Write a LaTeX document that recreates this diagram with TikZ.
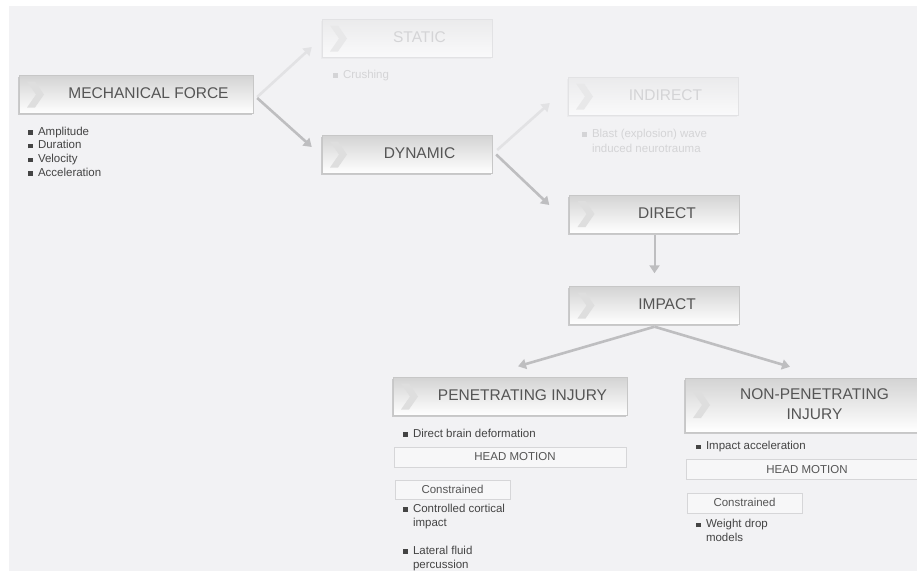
\documentclass[tikz,border=0pt]{standalone}
\usepackage{fontspec}
\setmainfont{Liberation Sans}
\usetikzlibrary{positioning, arrows.meta, calc, shadows}
\definecolor{pagebg}{RGB}{242,242,244}
\definecolor{boxtext}{RGB}{85,85,85}
\definecolor{listtext}{RGB}{68,68,68}
\definecolor{arrowgray}{RGB}{190,190,192}
\definecolor{ghostgray}{RGB}{226,226,228}
\definecolor{ghosttext}{RGB}{212,212,214}
\definecolor{framegray}{RGB}{214,214,216}

% chevron drawn at the left end of every stage box
\newcommand{\boxchevron}[1]{\fill[#1] ([shift={(8pt,13pt)}]path picture bounding box.west)
  -- ++(8pt,0pt) -- ++(9pt,-13pt) -- ++(-9pt,-13pt) -- ++(-8pt,0pt) -- ++(9pt,13pt) -- cycle;}
\newcommand{\boxlabel}[1]{\hspace*{25pt}\begin{tabular}{@{}c@{}}#1\end{tabular}}
\newcommand{\bul}{\makebox[10pt][l]{\rule[0.5pt]{4.5pt}{4.5pt}}}

\begin{document}
\begin{tikzpicture}[
  x=1pt, y=-1pt,
  stagebox/.style={draw=black!22, top color=black!17, bottom color=white,
                   minimum width=170pt, minimum height=38pt, inner sep=0pt,
                   text=boxtext, font=\fontsize{15.5}{20}\selectfont,
                   drop shadow={shadow xshift=-1.4pt, shadow yshift=-1.8pt, opacity=.35},
                   path picture={\boxchevron{black!13}}},
  ghostbox/.style={draw=ghostgray, top color=ghostgray!70, bottom color=white!60!pagebg,
                   minimum width=170pt, minimum height=38pt, inner sep=0pt,
                   text=ghosttext, font=\fontsize{15.5}{20}\selectfont,
                   drop shadow={shadow xshift=-1.2pt, shadow yshift=-1.8pt, opacity=.06},
                   path picture={\boxchevron{ghostgray!80}}},
  wide/.style={minimum width=234pt},
  itemlist/.style={inner sep=0pt, align=left, text=listtext, font=\fontsize{11.5}{13.7}\selectfont},
  framebox/.style={draw=framegray, fill=white!35!pagebg, inner sep=0pt, minimum height=20pt,
                   text=boxtext, font=\fontsize{11.5}{14}\selectfont},
  flow/.style={-{Triangle[length=8pt,width=10pt]}, line width=2.6pt, arrowgray},
  ghostflow/.style={flow, ghostgray}
]
  \useasboundingbox (0,0) rectangle (917,571);
  \fill[pagebg] (9,6) rectangle (917,571);

  % stage boxes
  \node[stagebox, wide] (mech) at (136,94.5) {\boxlabel{MECHANICAL FORCE}};
  \node[ghostbox] (static) at (407,38.5) {\boxlabel{STATIC}};
  \node[stagebox] (dynamic) at (407,154.5) {\boxlabel{DYNAMIC}};
  \node[ghostbox] (indirect) at (653,96.5) {\boxlabel{INDIRECT}};
  \node[stagebox] (direct) at (654.5,214) {\boxlabel{DIRECT}};
  \node[stagebox] (impact) at (654.5,305.5) {\boxlabel{IMPACT}};
  \node[stagebox, wide] (pen) at (510,396.5) {\boxlabel{PENETRATING INJURY}};
  \node[stagebox, wide, minimum height=54pt] (nonpen) at (802,405) {\boxlabel{NON-PENETRATING\\INJURY}};

  % bullet lists
  \node[itemlist, below right=13pt and 9pt of mech.south west] (mechlist)
    {\bul Amplitude\\\bul Duration\\\bul Velocity\\\bul Acceleration};
  \node[itemlist, text=ghosttext, below right=12pt and 11pt of static.south west] (staticlist)
    {\bul Crushing};
  \node[itemlist, text=ghosttext, font=\fontsize{11.5}{15}\selectfont,
        below right=13pt and 14pt of indirect.south west] (indirectlist)
    {\bul Blast (explosion) wave\\\hspace*{10pt}induced neurotrauma};

  % penetrating branch
  \node[itemlist, below right=13pt and 10pt of pen.south west] (penlist) {\bul Direct brain deformation};
  \node[framebox, minimum width=232pt, below right=31pt and 1pt of pen.south west] (penmotion)
    {\hspace*{10pt}HEAD MOTION};
  \node[framebox, minimum width=115pt, minimum height=19pt, below right=13pt and 1pt of penmotion.south west] (pencons)
    {Constrained};
  \node[itemlist, font=\fontsize{11.5}{14.5}\selectfont, below right=4pt and 8pt of pencons.south west] (penmodels)
    {\bul Controlled cortical\\\hspace*{10pt}impact\\[13pt]\bul Lateral fluid\\\hspace*{10pt}percussion};

  % non-penetrating branch
  \node[itemlist, below right=9pt and 11pt of nonpen.south west] (nonpenlist) {\bul Impact acceleration};
  \node[framebox, minimum width=232pt, below right=27pt and 1pt of nonpen.south west] (nonpenmotion)
    {\hspace*{10pt}HEAD MOTION};
  \node[framebox, minimum width=115pt, below right=13pt and 1pt of nonpenmotion.south west] (nonpencons)
    {Constrained};
  \node[itemlist, font=\fontsize{11.5}{14}\selectfont, below right=6pt and 9pt of nonpencons.south west] (nonpenmodels)
    {\bul Weight drop\\\hspace*{10pt}models};

  % connectors
  \draw[ghostflow] ([shift={(4pt,-2.5pt)}]mech.east) -- ([shift={(-10pt,-8.5pt)}]static.west);
  \draw[flow] ([shift={(4pt,-3.5pt)}]mech.east) -- ([shift={(-10pt,7.5pt)}]dynamic.west);
  \draw[ghostflow] ([shift={(5pt,4.5pt)}]dynamic.east) -- ([shift={(-18pt,-6.5pt)}]indirect.west);
  \draw[flow] ([shift={(4pt,0pt)}]dynamic.east) -- ([shift={(-20pt,9pt)}]direct.west);
  \draw[flow, line width=2pt, shorten <=2pt, shorten >=13pt] (direct.south) -- (impact.north);
  \draw[flow] ([yshift=-2pt]impact.south) -- ([shift={(8pt,11pt)}]pen.north);
  \draw[flow] ([yshift=-2pt]impact.south) -- ([shift={(-12pt,11pt)}]nonpen.north);
\end{tikzpicture}
\end{document}
